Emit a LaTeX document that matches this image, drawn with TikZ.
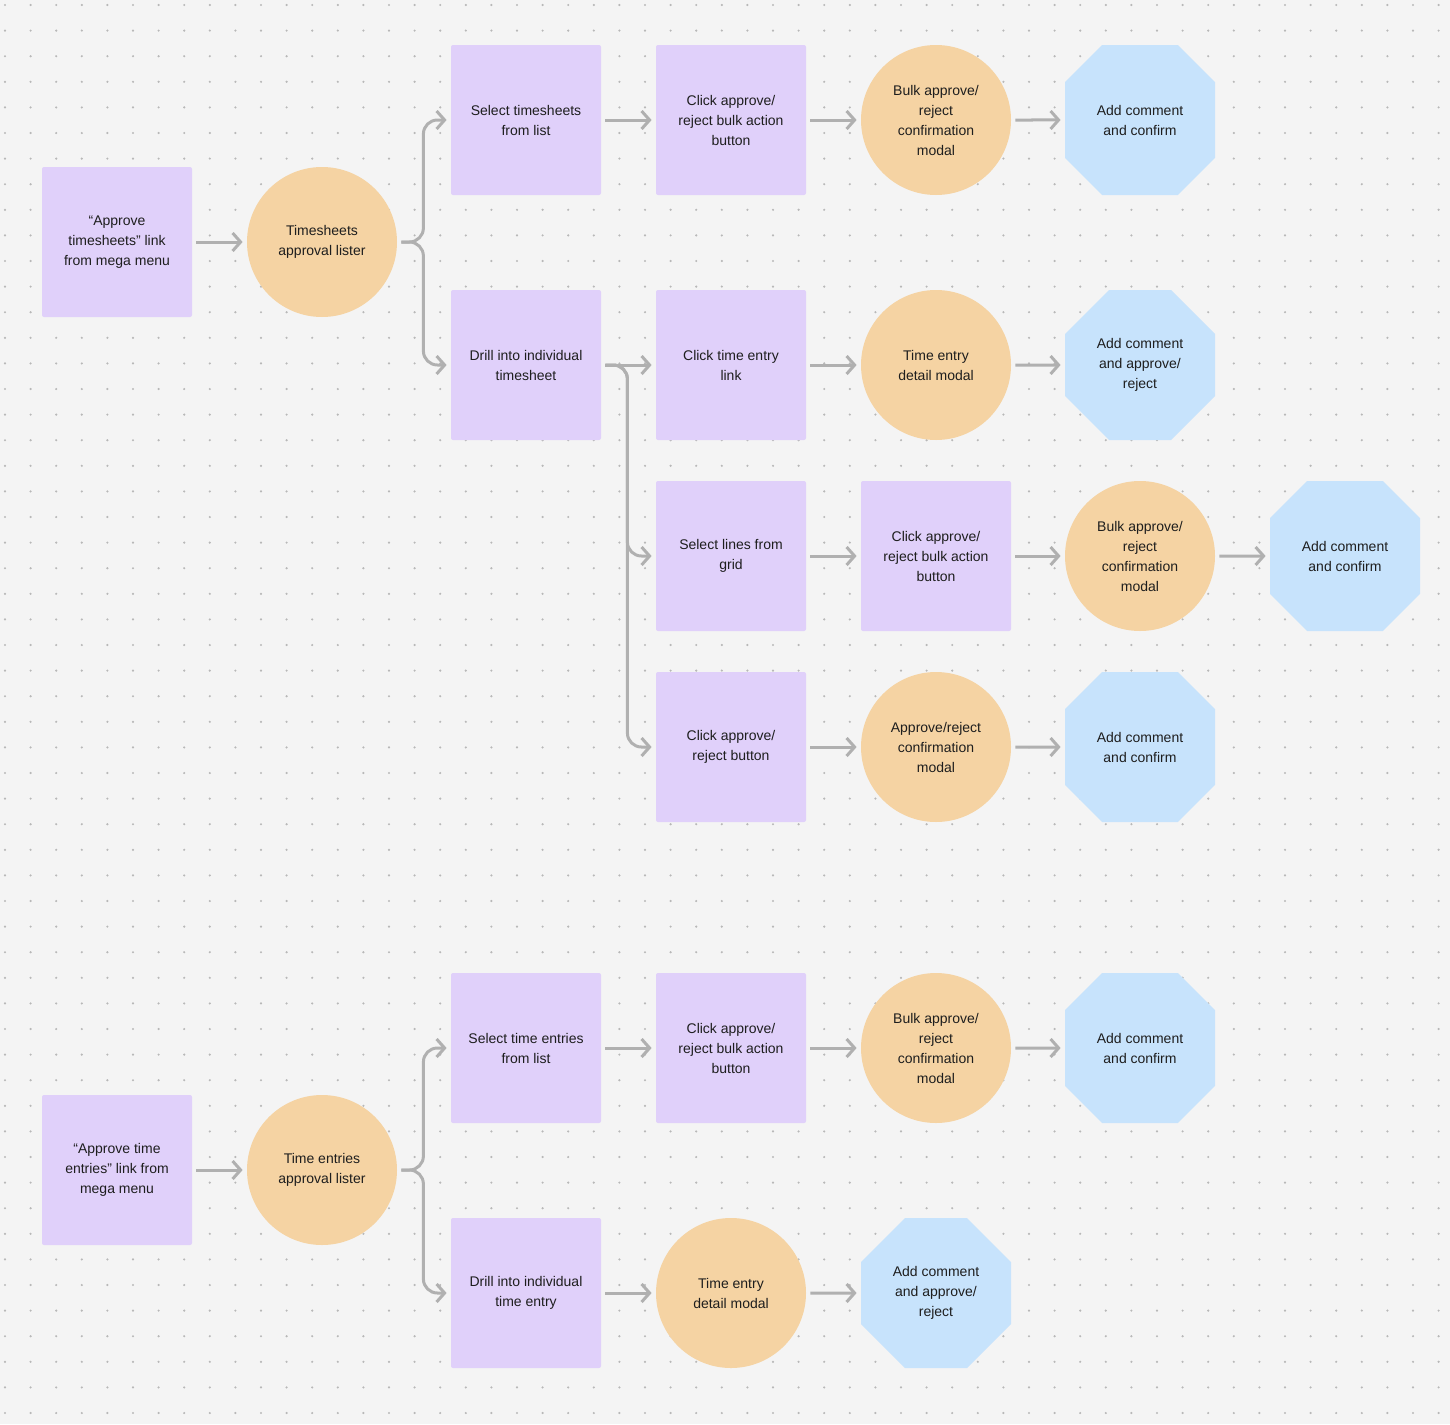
\documentclass[tikz,border=0pt]{standalone}
\usepackage{fontspec}
\setmainfont{Liberation Sans}
\usetikzlibrary{positioning,shapes.misc,arrows.meta}
\definecolor{bgc}{HTML}{F4F4F4}
\definecolor{dotc}{HTML}{B8B8B8}
\definecolor{purp}{HTML}{E0D0FA}
\definecolor{oran}{HTML}{F5D3A3}
\definecolor{blu}{HTML}{C7E3FC}
\definecolor{linec}{HTML}{B0B0B0}
\definecolor{txt}{HTML}{1E1E1E}
\tikzset{
  every node/.style={font=\fontsize{7}{10}\selectfont,text=txt,align=center},
  sq/.style={rectangle,fill=purp,minimum size=75pt,inner sep=0pt,rounded corners=1pt},
  rnd/.style={circle,fill=oran,minimum size=75pt,inner sep=0pt},
  oct/.style={chamfered rectangle,chamfered rectangle xsep=11pt,chamfered rectangle ysep=11pt,fill=blu,minimum size=75pt,inner sep=0pt},
  arr/.style={draw=linec,line width=1.5pt,-{Straight Barb[length=4pt,width=9pt]},shorten >=2pt,shorten <=2pt},
  fork/.style={draw=linec,line width=1.5pt,-{Straight Barb[length=4pt,width=9pt]},rounded corners=7pt,shorten >=2pt}
}
\begin{document}
\begin{tikzpicture}[x=0.5pt,y=-0.5pt]
\fill[bgc] (0,0) rectangle (1450,1424);
\useasboundingbox (0,0) rectangle (1450,1424);
\foreach \i in {0,...,56} \foreach \j in {0,...,55}
  \fill[dotc] (5+25.6*\i,5+25.6*\j) circle (0.6pt);
% upper flow
\node[sq] (tsmenu) at (117,242) {``Approve\\timesheets'' link\\from mega menu};
\node[rnd] (tslist) at (322,242) {Timesheets\\approval lister};
\node[sq] (tssel) at (526,120) {Select timesheets\\from list};
\node[sq] (tsbulk) at (731,120) {Click approve/\\reject bulk action\\button};
\node[rnd] (tsconf) at (936,120) {Bulk approve/\\reject\\confirmation\\modal};
\node[oct] (tsadd) at (1140,120) {Add comment\\and confirm};
\node[sq] (tsdrill) at (526,365) {Drill into individual\\timesheet};
\node[sq] (telink) at (731,365) {Click time entry\\link};
\node[rnd] (tedet) at (936,365) {Time entry\\detail modal};
\node[oct] (teadd) at (1140,365) {Add comment\\and approve/\\reject};
\node[sq] (lnsel) at (731,556) {Select lines from\\grid};
\node[sq] (lnbulk) at (936,556) {Click approve/\\reject bulk action\\button};
\node[rnd] (lnconf) at (1140,556) {Bulk approve/\\reject\\confirmation\\modal};
\node[oct] (lnadd) at (1345,556) {Add comment\\and confirm};
\node[sq] (apbtn) at (731,747) {Click approve/\\reject button};
\node[rnd] (apconf) at (936,747) {Approve/reject\\confirmation\\modal};
\node[oct] (apadd) at (1140,747) {Add comment\\and confirm};
% lower flow
\node[sq] (ermenu) at (117,1170) {``Approve time\\entries'' link from\\mega menu};
\node[rnd] (erlist) at (322,1170) {Time entries\\approval lister};
\node[sq] (ersel) at (526,1048) {Select time entries\\from list};
\node[sq] (erbulk) at (731,1048) {Click approve/\\reject bulk action\\button};
\node[rnd] (erconf) at (936,1048) {Bulk approve/\\reject\\confirmation\\modal};
\node[oct] (eradd) at (1140,1048) {Add comment\\and confirm};
\node[sq] (erdrill) at (526,1293) {Drill into individual\\time entry};
\node[rnd] (erdet) at (731,1293) {Time entry\\detail modal};
\node[oct] (erapp) at (936,1293) {Add comment\\and approve/\\reject};
% connectors
\foreach \a/\b in {tsmenu/tslist,tssel/tsbulk,tsbulk/tsconf,tsconf/tsadd,
  tsdrill/telink,telink/tedet,tedet/teadd,lnsel/lnbulk,lnbulk/lnconf,lnconf/lnadd,
  apbtn/apconf,apconf/apadd,ermenu/erlist,ersel/erbulk,erbulk/erconf,
  erconf/eradd,erdrill/erdet,erdet/erapp}
  \draw[arr] (\a) -- (\b);
\foreach \a/\b in {tslist/tssel,tslist/tsdrill,erlist/ersel,erlist/erdrill}
  \draw[fork] ([xshift=2pt]\a.east) -- ++(22,0) |- (\b.west);
\foreach \b in {lnsel,apbtn}
  \draw[fork] ([xshift=2pt]tsdrill.east) -- ++(22,0) |- (\b.west);
\end{tikzpicture}
\end{document}
